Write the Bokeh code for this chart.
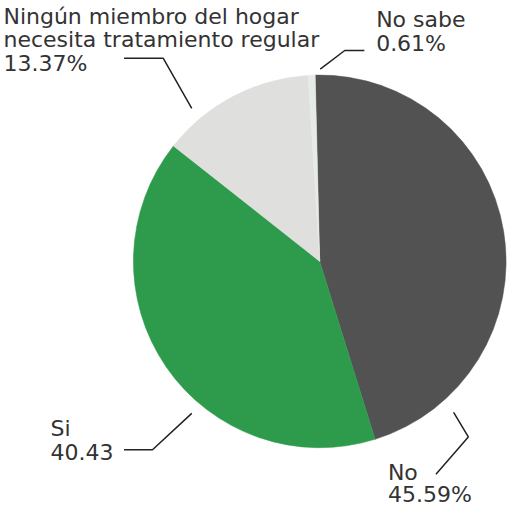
from bokeh.plotting import figure
from bokeh.models import Range1d, ColumnDataSource
from bokeh.core.properties import value
from bokeh.embed import file_html
from bokeh.resources import INLINE
import math

# ---- data ----
categories = ["No", "Si", "Ningún miembro del hogar necesita tratamiento regular", "No sabe"]
values = [45.59, 40.43, 13.37, 0.61]
value_texts = ["45.59%", "40.43", "13.37%", "0.61%"]
label_lines = [
    ["No", "45.59%"],
    ["Si", "40.43"],
    ["Ningún miembro del hogar", "necesita tratamiento regular", "13.37%"],
    ["No sabe", "0.61%"],
]
colors = ["#525252", "#2e9b4c", "#dfdfdd", "#e6ebe7"]

# ---- layout (reference pixel coordinates, y downwards) ----
cx, cy, r = 332.5, 273.0, 190.0
start_offset_deg = 1.4  # first slice starts slightly left of 12 o'clock
label_anchor = [(402, 496, 23), (58, 452, 23), (10, 31, 24), (390, 35, 24)]
baseline_fix = 8.0
leaders = [
    [(469, 427), (484, 452), (451, 490)],
    [(202, 428), (162, 465), (133, 465)],
    [(202, 117), (173, 66), (133, 66)],
    [(333, 77), (358, 58), (378, 58)],
]

W, H = 507, 510
y0, y1 = 7, 527
sc = (y1 - y0) / H
x0 = 7
x1 = x0 + W * sc

p = figure(width=W, height=H, output_backend="svg", toolbar_location=None,
           x_range=Range1d(x0, x1), y_range=Range1d(-y1, -y0), min_border=0)
p.axis.visible = False
p.grid.visible = False
p.outline_line_color = None
p.background_fill_color = "white"
p.border_fill_color = "white"

total = sum(values)
starts, ends = [], []
cum = 0.0
for v in values:
    a0 = math.radians(90 + start_offset_deg - cum / total * 360)
    cum += v
    a1 = math.radians(90 + start_offset_deg - cum / total * 360)
    starts.append(a1)
    ends.append(a0)

src = ColumnDataSource(dict(x=[cx] * len(values), y=[-cy] * len(values),
                            start=starts, end=ends, color=colors, cat=categories))
p.wedge(x="x", y="y", radius=r, start_angle="start", end_angle="end",
        fill_color="color", line_color="color", line_width=0.5, source=src)

# leader lines
p.multi_line(xs=[[pt[0] for pt in l] for l in leaders],
             ys=[[-pt[1] for pt in l] for l in leaders],
             line_color="#222222", line_width=1.5)

# labels
tx, ty, tt = [], [], []
for lines, (ax, ay, lh) in zip(label_lines, label_anchor):
    for i, t in enumerate(lines):
        tx.append(ax)
        ty.append(-(ay + i * lh) + baseline_fix * sc)
        tt.append(t)
p.text(x=tx, y=ty, text=tt, text_font=value("DejaVu Sans"), text_font_size="22px",
       text_color="#333333", text_align="left", text_baseline="alphabetic")

open("out.html", "w").write(file_html(p, INLINE))
